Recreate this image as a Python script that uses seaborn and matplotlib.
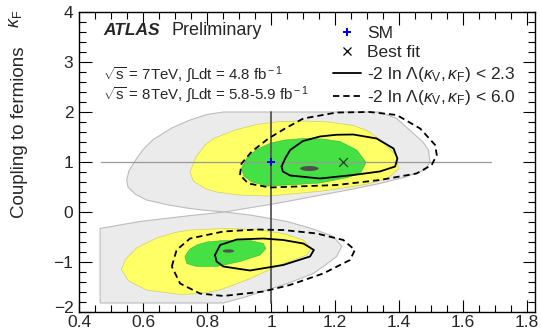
import numpy as np
import matplotlib
matplotlib.use("Agg")
import matplotlib.pyplot as plt
import matplotlib.transforms as mtransforms
import seaborn as sns
from matplotlib.lines import Line2D
from matplotlib.patches import Ellipse
from matplotlib.ticker import MultipleLocator

# ----------------------------
# Contour data (kappa_V, kappa_F)
# ----------------------------

# light grey outer region, two lobes meeting near (0.86, 0)
gray_up_v = [0.856, 0.80, 0.747, 0.68, 0.611, 0.575, 0.553, 0.549, 0.556, 0.575, 0.60, 0.632, 0.69, 0.747, 0.80, 0.851,
             1.34, 1.393, 1.445, 1.475, 1.492, 1.497, 1.481, 1.42, 1.34, 1.24, 1.132, 1.05, 0.987, 0.92, 0.856]
gray_up_f = [0.0, 0.03, 0.07, 0.14, 0.24, 0.36, 0.50, 0.64, 0.82, 1.02, 1.25, 1.45, 1.68, 1.84, 1.95, 2.0,
             2.0, 1.87, 1.57, 1.40, 1.24, 1.0, 0.84, 0.70, 0.57, 0.44, 0.31, 0.21, 0.14, 0.07, 0.0]
gray_lo_v = [0.856, 0.934, 1.05, 1.132, 1.195, 1.221, 1.205, 1.17, 1.132, 1.06, 0.987, 0.92, 0.851,
             0.466, 0.466, 0.59, 0.75, 0.856]
gray_lo_f = [0.0, -0.06, -0.19, -0.34, -0.49, -0.69, -0.89, -1.06, -1.23, -1.41, -1.56, -1.70, -1.82,
             -1.82, -0.33, -0.19, -0.07, 0.0]

# yellow region
yel_up_v = [0.747, 0.765, 0.794, 0.82, 0.888, 0.955, 1.028, 1.101, 1.18, 1.257, 1.30, 1.34, 1.393, 1.398, 1.362,
            1.30, 1.237, 1.16, 1.08, 0.992, 0.898, 0.83, 0.794, 0.757, 0.747]
yel_up_f = [0.80, 1.10, 1.34, 1.47, 1.64, 1.75, 1.81, 1.82, 1.80, 1.73, 1.63, 1.45, 1.12, 0.86, 0.66,
            0.56, 0.49, 0.42, 0.37, 0.32, 0.34, 0.40, 0.47, 0.62, 0.80]
yel_lo_v = [0.533, 0.545, 0.58, 0.643, 0.70, 0.747, 0.851, 0.955, 1.038, 1.101, 1.127, 1.111, 1.028, 0.924, 0.84,
            0.78, 0.716, 0.611, 0.555, 0.533]
yel_lo_f = [-1.15, -0.95, -0.72, -0.52, -0.41, -0.36, -0.33, -0.35, -0.43, -0.56, -0.73, -0.86, -1.06, -1.36, -1.56,
            -1.63, -1.65, -1.56, -1.38, -1.15]

# green region
grn_up_v = [0.908, 0.925, 0.955, 1.0, 1.044, 1.101, 1.16, 1.216, 1.268, 1.297, 1.28, 1.24, 1.153, 1.05, 0.99,
            0.94, 0.915, 0.908]
grn_up_f = [0.88, 1.08, 1.25, 1.38, 1.44, 1.47, 1.46, 1.41, 1.24, 0.99, 0.78, 0.69, 0.58, 0.54, 0.52,
            0.60, 0.72, 0.88]
grn_lo_v = [0.731, 0.745, 0.768, 0.80, 0.851, 0.934, 0.976, 0.984, 0.966, 0.903, 0.83, 0.768, 0.737, 0.731]
grn_lo_f = [-0.89, -0.75, -0.66, -0.60, -0.57, -0.57, -0.63, -0.73, -0.86, -0.99, -1.09, -1.09, -1.03, -0.89]

# -2 ln L < 2.3 (solid)
sol_up_v = [1.033, 1.045, 1.06, 1.10, 1.153, 1.205, 1.257, 1.33, 1.383, 1.395, 1.388, 1.34, 1.257, 1.153, 1.06,
            1.037, 1.033]
sol_up_f = [0.91, 1.08, 1.24, 1.42, 1.51, 1.545, 1.55, 1.47, 1.27, 1.07, 0.91, 0.81, 0.74, 0.67, 0.73,
            0.81, 0.91]
sol_lo_v = [0.825, 0.841, 0.893, 0.976, 1.038, 1.101, 1.134, 1.122, 1.038, 0.934, 0.851, 0.83, 0.825]
sol_lo_f = [-0.86, -0.66, -0.55, -0.53, -0.56, -0.63, -0.76, -0.89, -1.06, -1.17, -1.09, -0.99, -0.86]

# -2 ln L < 6.0 (dashed)
das_up_v = [0.903, 0.908, 0.94, 0.992, 1.044, 1.101, 1.205, 1.309, 1.393, 1.466, 1.513, 1.518, 1.502, 1.455, 1.34,
            1.205, 0.997, 0.929, 0.903]
das_up_f = [0.74, 0.97, 1.21, 1.47, 1.67, 1.87, 1.99, 2.0, 1.94, 1.67, 1.34, 1.14, 0.94, 0.77, 0.64,
            0.54, 0.49, 0.57, 0.74]
das_lo_v = [0.69, 0.705, 0.747, 0.851, 0.955, 1.038, 1.143, 1.226, 1.262, 1.247, 1.163, 1.059, 0.976, 0.851, 0.778,
            0.716, 0.69]
das_lo_f = [-1.09, -0.76, -0.53, -0.39, -0.35, -0.36, -0.43, -0.56, -0.76, -0.96, -1.23, -1.46, -1.59, -1.68, -1.63,
            -1.43, -1.09]

# local minima (dark blobs): centre, width, height
min_v = [1.12, 0.867]
min_f = [0.87, -0.78]
min_w = [0.058, 0.036]
min_h = [0.10, 0.065]

sm_point = (1.0, 1.0)
best_fit = (1.224, 1.0)

# guide lines
hline_f, hline_v = 1.0, (0.468, 1.688)
vline_v, vline_f = 1.0, (-1.82, 2.0)

x_ticks = [0.4, 0.6, 0.8, 1.0, 1.2, 1.4, 1.6, 1.8]
x_ticklabels = ["0.4", "0.6", "0.8", "1", "1.2", "1.4", "1.6", "1.8"]

# ----------------------------
# Style
# ----------------------------
sns.set_theme(style="ticks")
plt.rcParams['font.family'] = ['Liberation Sans', 'DejaVu Sans']
plt.rcParams['mathtext.fontset'] = 'custom'
plt.rcParams['mathtext.rm'] = 'Liberation Sans'
plt.rcParams['mathtext.it'] = 'Liberation Sans:italic'

fig = plt.figure(figsize=(5.41, 3.3), dpi=100)
ax = fig.add_axes([79 / 541, 18 / 330, 456 / 541, 300 / 330])

GRAY = "#ebebeb"
YEL = "#ffff66"
GRN = "#44e044"

ax.fill(gray_up_v, gray_up_f, facecolor=GRAY, edgecolor="#bcbcbc", lw=0.8, zorder=1)
ax.fill(gray_lo_v, gray_lo_f, facecolor=GRAY, edgecolor="#bcbcbc", lw=0.8, zorder=1)
ax.fill(yel_up_v, yel_up_f, facecolor=YEL, edgecolor="#d0d060", lw=0.5, zorder=2)
ax.fill(yel_lo_v, yel_lo_f, facecolor=YEL, edgecolor="#d0d060", lw=0.5, zorder=2)
ax.fill(grn_up_v, grn_up_f, facecolor=GRN, edgecolor="#34b834", lw=0.4, zorder=3)
ax.fill(grn_lo_v, grn_lo_f, facecolor=GRN, edgecolor="#34b834", lw=0.4, zorder=3)

for v, f, w, h in zip(min_v, min_f, min_w, min_h):
    ax.add_patch(Ellipse((v, f), w, h, facecolor="#505050", edgecolor="none", zorder=4))

# guide lines
ax.plot(hline_v, [hline_f, hline_f], color="#999999", lw=0.9, zorder=5)
ax.plot([vline_v, vline_v], vline_f, color="#555555", lw=1.3, zorder=5)

# likelihood contours
for v, f in [(sol_up_v, sol_up_f), (sol_lo_v, sol_lo_f)]:
    sns.lineplot(x=v, y=f, sort=False, estimator=None, color="black", lw=1.3, ax=ax, zorder=6)
for v, f in [(das_up_v, das_up_f), (das_lo_v, das_lo_f)]:
    sns.lineplot(x=v, y=f, sort=False, estimator=None, color="black", lw=1.3, ax=ax, zorder=6,
                 linestyle=(0, (3.5, 2.2)))

sns.scatterplot(x=[best_fit[0]], y=[best_fit[1]], marker="x", color="#1a4a1a", s=40, linewidth=0.9, ax=ax, zorder=7)
sns.scatterplot(x=[sm_point[0]], y=[sm_point[1]], marker="P", color="#0000ee", s=40, linewidth=0, ax=ax, zorder=7)

# axes
ax.set_xlim(0.4, 1.825)
ax.set_ylim(-2, 4)
ax.xaxis.set_minor_locator(MultipleLocator(0.05))
ax.yaxis.set_major_locator(MultipleLocator(1))
ax.yaxis.set_minor_locator(MultipleLocator(0.2))
ax.set_xticks(x_ticks)
ax.set_xticklabels(x_ticklabels)
ax.tick_params(which="both", direction="in", top=True, right=True, labelsize=12.5, width=0.8, color="black")
ax.tick_params(which="major", length=9, pad=2)
ax.tick_params(which="minor", length=5)
ax.tick_params(axis="y", pad=4)
for s in ax.spines.values():
    s.set_linewidth(1.0)
    s.set_color("black")
ax.set_xlabel("")
ax.set_ylabel("")

# ROOT puts "-2" just above "0.4"; nudge it up a little
fig.canvas.draw()
for lab in ax.get_yticklabels():
    if lab.get_text() in ("\u22122", "-2"):
        lab.set_transform(lab.get_transform() + mtransforms.ScaledTranslation(0, 5 / 100, fig.dpi_scale_trans))

# y title (ROOT style, right aligned at top)
fig.text(20 / 541, 1 - 132 / 330, "Coupling to fermions", rotation=90, ha="center", va="center", fontsize=13.5)
fig.text(16 / 541, 1 - 19 / 330, r"$\kappa_{\rm F}$", rotation=90, ha="center", va="center", fontsize=13)

# labels
ax.text(0.475, 3.63, "ATLAS", fontsize=12.5, fontweight="bold", fontstyle="italic", va="center")
ax.text(0.69, 3.63, "Preliminary", fontsize=13, va="center")
ax.text(0.475, 2.74, r"$\sqrt{\rm s}$ = 7TeV, $\int$Ldt = 4.8 fb$^{\rm -1}$", fontsize=10.8, va="center")
ax.text(0.475, 2.34, r"$\sqrt{\rm s}$ = 8TeV, $\int$Ldt = 5.8-5.9 fb$^{\rm -1}$", fontsize=10.8, va="center")

# legend
handles = [
    Line2D([], [], marker="P", color="#0000ee", ls="none", markersize=6, markeredgewidth=0),
    Line2D([], [], marker="x", color="black", ls="none", markersize=6, markeredgewidth=0.9),
    Line2D([], [], color="black", lw=1.3),
    Line2D([], [], color="black", lw=1.3, ls=(0, (3.5, 2.2))),
]
labels = ["SM", "Best fit", r"-2 ln $\Lambda(\kappa_{\rm V},\kappa_{\rm F})$ < 2.3",
          r"-2 ln $\Lambda(\kappa_{\rm V},\kappa_{\rm F})$ < 6.0"]
ax.legend(handles, labels, loc="upper left", bbox_to_anchor=(333 / 541, 1 - 26 / 330),
          bbox_transform=fig.transFigure, frameon=False, fontsize=12.5, handlelength=1.6,
          handletextpad=0.35, labelspacing=0.24, borderpad=0, borderaxespad=0)

fig.savefig("out.png", dpi=100)
